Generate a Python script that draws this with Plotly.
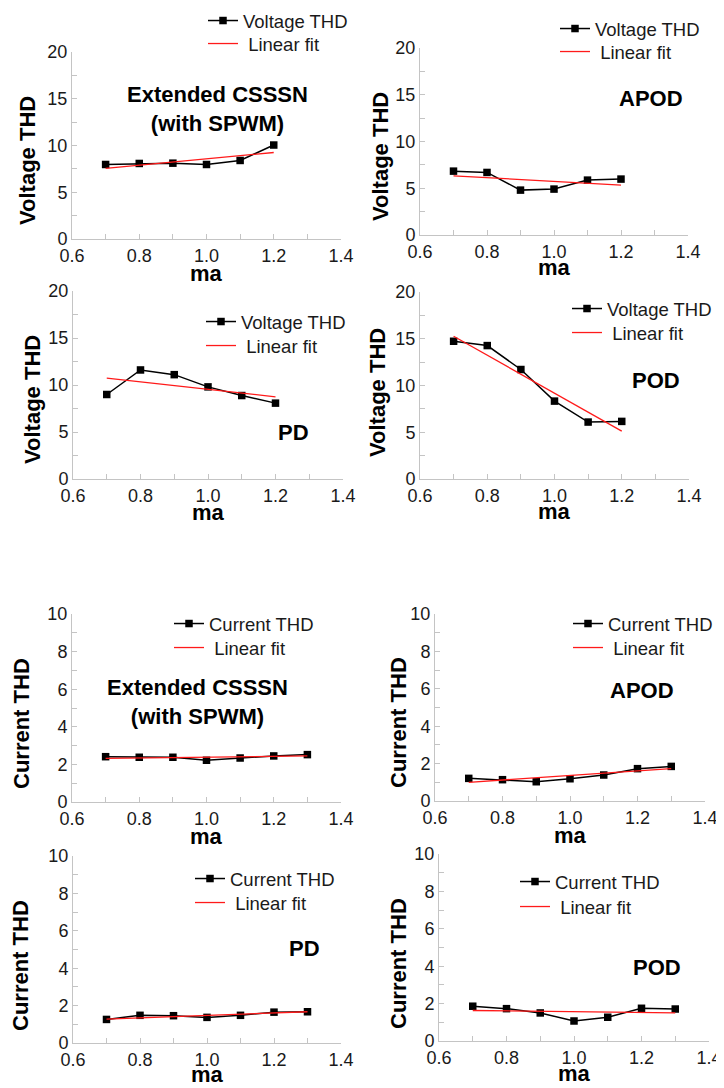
import plotly.graph_objects as go

# page body has an 8px default margin, so the figure is sized to fit inside it
OFF = 8
W, H = 724 - OFF, 1088 - OFF

# ---------------- data ----------------
ma_voltage = [0.7, 0.8, 0.9, 1.0, 1.1, 1.2]
ma_current = [0.7, 0.8, 0.9, 1.0, 1.1, 1.2, 1.3]
fit_x_voltage = [0.7, 1.2]
fit_x_current = [0.7, 1.3]

v_ext = [7.97, 8.08, 8.11, 7.97, 8.40, 10.05]
v_ext_fit = [7.55, 9.25]
v_apod = [6.83, 6.69, 4.80, 4.91, 5.87, 5.98]
v_apod_fit = [6.33, 5.34]
v_pd = [8.99, 11.60, 11.10, 9.80, 8.88, 8.07]
v_pd_fit = [10.73, 8.74]
v_pod = [14.73, 14.27, 11.71, 8.33, 6.09, 6.16]
v_pod_fit = [15.27, 5.12]

c_ext = [2.41, 2.38, 2.38, 2.22, 2.34, 2.45, 2.52]
c_ext_fit = [2.32, 2.45]
c_apod = [1.21, 1.14, 1.03, 1.19, 1.39, 1.73, 1.85]
c_apod_fit = [1.00, 1.73]
c_pd = [1.26, 1.48, 1.46, 1.37, 1.48, 1.65, 1.67]
c_pd_fit = [1.28, 1.67]
c_pod = [1.86, 1.73, 1.50, 1.07, 1.27, 1.75, 1.71]
c_pod_fit = [1.63, 1.50]

method_labels = ["Extended CSSSN<br>(with SPWM)", "APOD", "PD", "POD",
                 "Extended CSSSN<br>(with SPWM)", "APOD", "PD", "POD"]
x_tick_vals = [0.6, 0.8, 1.0, 1.2, 1.4]
x_tick_text = ["0.6", "0.8", "1.0", "1.2", "1.4"]

# ---------------- layout helpers ----------------
FONT = "Arial, Liberation Sans, sans-serif"
TXT = "#1a1a1a"
AX = "#c4c4c4"

panels = [
    dict(y=v_ext, f=v_ext_fit, x=ma_voltage, fx=fit_x_voltage, kind="Voltage",
         box=(72, 341, 52, 239), yt=(28, 161), lab=(217, 109), leg=(243, 21, 44), ma=273),
    dict(y=v_apod, f=v_apod_fit, x=ma_voltage, fx=fit_x_voltage, kind="Voltage",
         box=(420, 688, 48, 235), yt=(380, 156), lab=(651, 98), leg=(595, 29, 52), ma=268),
    dict(y=v_pd, f=v_pd_fit, x=ma_voltage, fx=fit_x_voltage, kind="Voltage",
         box=(73, 343, 291, 479), yt=(33, 400), lab=(293, 432), leg=(241, 322, 346), ma=512),
    dict(y=v_pod, f=v_pod_fit, x=ma_voltage, fx=fit_x_voltage, kind="Voltage",
         box=(420, 689, 292, 479), yt=(378, 393), lab=(656, 380), leg=(607, 309, 333), ma=511),
    dict(y=c_ext, f=c_ext_fit, x=ma_current, fx=fit_x_current, kind="Current",
         box=(72, 341, 614, 802), yt=(21, 724), lab=(197, 702), leg=(209, 624, 648), ma=836),
    dict(y=c_apod, f=c_apod_fit, x=ma_current, fx=fit_x_current, kind="Current",
         box=(435, 705, 614, 801), yt=(398, 722), lab=(642, 690), leg=(608, 624, 648), ma=835),
    dict(y=c_pd, f=c_pd_fit, x=ma_current, fx=fit_x_current, kind="Current",
         box=(73, 341, 856, 1043), yt=(20, 966), lab=(304, 948), leg=(230, 879, 903), ma=1074),
    dict(y=c_pod, f=c_pod_fit, x=ma_current, fx=fit_x_current, kind="Current",
         box=(439, 709, 854, 1041), yt=(398, 963), lab=(657, 967), leg=(555, 882, 907), ma=1073),
]


def px(x):
    return (x - OFF) / W


def py(y):
    return 1 - (y - OFF) / H


fig = go.Figure()
layout = {}
annotations = []

LEG_FONT = 18.5
LEG_DY = 19  # legend top -> first row centre

for i, p in enumerate(panels):
    n = i + 1
    sfx = "" if n == 1 else str(n)
    xa, ya = "x" + sfx, "y" + sfx
    leg_a = "legend" + ("" if n == 1 else str(2 * n - 1))
    leg_b = "legend" + str(2 * n)
    x0, x1, y0, y1 = p["box"]

    fig.add_trace(go.Scatter(
        x=p["x"], y=p["y"], xaxis=xa, yaxis=ya, legend=leg_a,
        mode="lines+markers", name=f"{p['kind']} THD",
        line=dict(color="black", width=1.5),
        marker=dict(symbol="square", size=7.5, color="black"),
    ))
    fig.add_trace(go.Scatter(
        x=p["fx"], y=p["f"], xaxis=xa, yaxis=ya, legend=leg_b,
        mode="lines", name="\u00a0Linear fit",
        line=dict(color="#ff1a1a", width=1.3),
    ))

    ymax = 20 if p["kind"] == "Voltage" else 10
    ydt = 5 if p["kind"] == "Voltage" else 2
    yminor = 2.5 if p["kind"] == "Voltage" else 1

    layout["xaxis" + sfx] = dict(
        domain=[px(x0), px(x1)], anchor=ya, range=[0.6, 1.4],
        tickvals=x_tick_vals, ticktext=x_tick_text,
        ticks="inside", ticklen=5, tickcolor=AX, tickwidth=1,
        minor=dict(ticks="inside", dtick=0.1, tick0=0.6, ticklen=5, tickcolor=AX),
        showline=True, linecolor=AX, linewidth=1, showgrid=False, zeroline=False,
        tickfont=dict(family=FONT, size=18, color=TXT), fixedrange=True,
        automargin=False,
    )
    layout["yaxis" + sfx] = dict(
        domain=[py(y1), py(y0)], anchor=xa, range=[0, ymax],
        dtick=ydt, tick0=0,
        ticks="inside", ticklen=5, tickcolor=AX, tickwidth=1,
        minor=dict(ticks="inside", dtick=yminor, tick0=0, ticklen=5, tickcolor=AX),
        showline=True, linecolor=AX, linewidth=1, showgrid=False, zeroline=False,
        tickfont=dict(family=FONT, size=18, color=TXT), fixedrange=True,
        automargin=False,
    )
    tx, r1, r2 = p["leg"]
    for key, ry in ((leg_a, r1), (leg_b, r2)):
        layout[key] = dict(
            x=px(tx - 40), y=py(ry - LEG_DY), xanchor="left", yanchor="top",
            bgcolor="rgba(0,0,0,0)", borderwidth=0,
            font=dict(family=FONT, size=LEG_FONT, color=TXT),
            itemwidth=30,
        )

    annotations.append(dict(
        text=f"<b>{p['kind']} THD</b>", x=px(p["yt"][0]), y=py(p["yt"][1]),
        xref="paper", yref="paper", textangle=-90, showarrow=False,
        xanchor="center", yanchor="middle",
        font=dict(family=FONT, size=22, color="black"),
    ))
    annotations.append(dict(
        text="<b>ma</b>", x=px((x0 + x1) / 2), y=py(p["ma"]),
        xref="paper", yref="paper", showarrow=False,
        xanchor="center", yanchor="middle",
        font=dict(family=FONT, size=22, color="black"),
    ))
    annotations.append(dict(
        text=f"<b>{method_labels[i]}</b>", x=px(p["lab"][0]), y=py(p["lab"][1]),
        xref="paper", yref="paper", showarrow=False,
        xanchor="center", yanchor="middle", align="center",
        font=dict(family=FONT, size=22, color="black"),
    ))

fig.update_layout(
    width=W, height=H,
    margin=dict(l=0, r=0, t=0, b=0, pad=0, autoexpand=False),
    paper_bgcolor="white", plot_bgcolor="white",
    showlegend=True,
    annotations=annotations,
    **layout,
)

fig.write_html("out.html")
